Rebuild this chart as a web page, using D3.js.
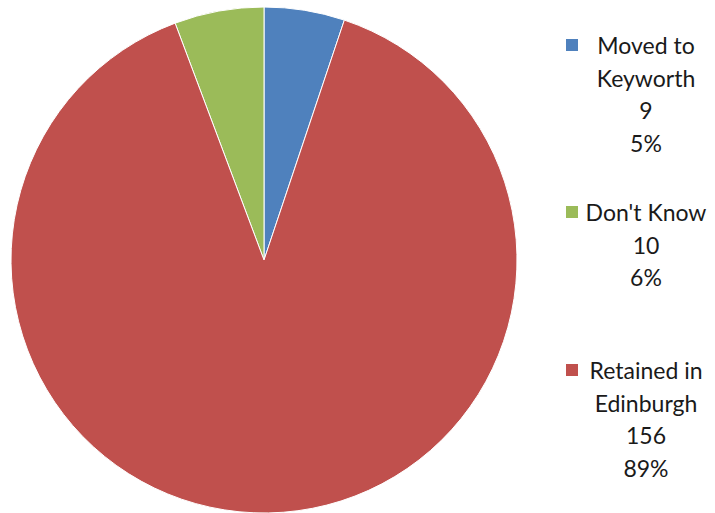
<!DOCTYPE html>
<html>
<head>
<meta charset="utf-8">
<script src="https://cdn.jsdelivr.net/npm/d3@7"></script>
<style>
  body { margin: 0; background: #fff; }
  svg { display: block; }
  .leg text { font-family: Lato, "Open Sans", sans-serif; font-size: 23px; fill: #1a1a1a; }
</style>
</head>
<body>
<div id="graf"></div>
<script>
// data
const categories = ["Moved to Keyworth", "Don't Know", "Retained in Edinburgh"]
const labelLines = [["Moved to", "Keyworth"], ["Don't Know"], ["Retained in", "Edinburgh"]]
const values = [9, 10, 156]
const colors = ["#4F81BD", "#9BBB59", "#C0504D"]
// clockwise order of slices starting at 12 o'clock
const sliceOrder = ["Moved to Keyworth", "Retained in Edinburgh", "Don't Know"]

const anchoTotal = 715
const altoTotal = 513

const svg = d3.select("#graf")
  .append("svg")
  .attr("width", anchoTotal)
  .attr("height", altoTotal)

const data = categories.map((c, i) => ({ cat: c, value: values[i], color: colors[i], lines: labelLines[i] }))
const total = d3.sum(values)

const pie = d3.pie()
  .value((d) => d.value)
  .sort((a, b) => sliceOrder.indexOf(a.cat) - sliceOrder.indexOf(b.cat))

const radio = 253
const arc = d3.arc().innerRadius(0).outerRadius(radio)

const g = svg.append("g").attr("transform", `translate(264, 260)`)

g.selectAll("path")
  .data(pie(data))
  .enter()
  .append("path")
  .attr("d", arc)
  .attr("fill", (d) => d.data.color)
  .attr("stroke", "#fff")
  .attr("stroke-width", 1)

// legend
const legTop = [46, 213, 371]
const lineH = 32.5
const leg = svg.append("g").attr("class", "leg")

data.forEach((d, i) => {
  const item = leg.append("g").attr("transform", `translate(0, ${legTop[i]})`)
  item.append("rect")
    .attr("x", 566)
    .attr("y", -7)
    .attr("width", 12)
    .attr("height", 12)
    .attr("fill", d.color)
  const lines = d.lines.concat([String(d.value), Math.round(d.value / total * 100) + "%"])
  lines.forEach((t, j) => {
    item.append("text")
      .attr("x", 646)
      .attr("y", j * lineH)
      .attr("dy", "0.35em")
      .attr("text-anchor", "middle")
      .text(t)
  })
})
</script>
</body>
</html>
